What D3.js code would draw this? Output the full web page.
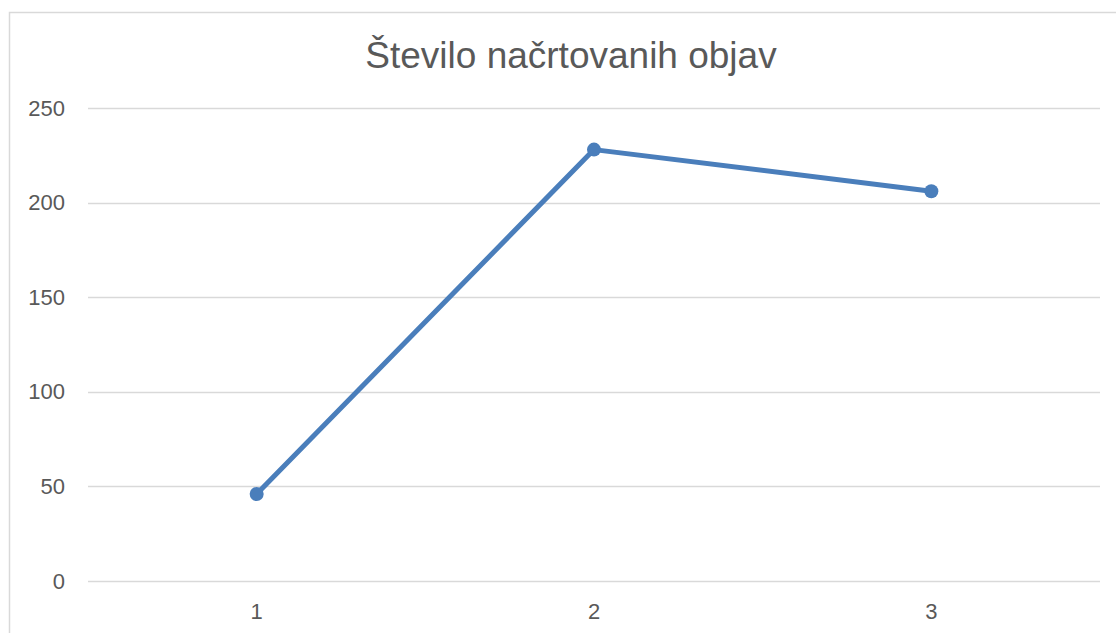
<!DOCTYPE html>
<html>
<head>
<meta charset="utf-8">
<script src="https://cdn.jsdelivr.net/npm/d3@7"></script>
<style>
  body { margin: 0; background: #fff; }
  text { font-family: "Liberation Sans", Arial, sans-serif; fill: #595959; }
</style>
</head>
<body>
<div class="container"></div>
<script>
var categories = ["1", "2", "3"];
var values = [46, 228, 206];
var yTicks = [0, 50, 100, 150, 200, 250];
var title = "Število načrtovanih objav";

var svgWidth = 1116;
var svgHeight = 633;

var chartMargin = { top: 108, bottom: 52, left: 88, right: 16 };
var chartWidth = svgWidth - chartMargin.left - chartMargin.right;
var chartHeight = svgHeight - chartMargin.top - chartMargin.bottom;

var svg = d3.select(".container")
    .append("svg")
    .attr("width", svgWidth)
    .attr("height", svgHeight);

// outer chart border
svg.append("rect")
    .attr("x", 9.5)
    .attr("y", 12.5)
    .attr("width", 1120)
    .attr("height", 640)
    .attr("fill", "none")
    .attr("stroke", "#d9d9d9")
    .attr("stroke-width", 1.5);

svg.append("text")
    .attr("x", 571)
    .attr("y", 68)
    .attr("text-anchor", "middle")
    .style("font-size", "37px")
    .text(title);

var chartGroup = svg.append("g")
    .attr("transform", `translate(${chartMargin.left}, ${chartMargin.top})`);

var xBandScale = d3.scaleBand()
    .domain(categories)
    .range([0, chartWidth]);

var yLinearScale = d3.scaleLinear()
    .domain([0, 250])
    .range([chartHeight, 0]);

// gridlines
chartGroup.selectAll(".grid")
    .data(yTicks)
    .enter()
    .append("line")
    .attr("x1", 0)
    .attr("x2", chartWidth)
    .attr("y1", d => Math.round(yLinearScale(d)) + 0.5)
    .attr("y2", d => Math.round(yLinearScale(d)) + 0.5)
    .attr("stroke", "#d9d9d9")
    .attr("stroke-width", 1.5);

var leftAxis = d3.axisLeft(yLinearScale).tickValues(yTicks).tickSize(0).tickPadding(23);
var bottomAxis = d3.axisBottom(xBandScale).tickSize(0).tickPadding(22);

var gy = chartGroup.append("g").call(leftAxis);
gy.attr("font-size", null).attr("font-family", null);
gy.select(".domain").remove();
gy.selectAll("text").style("font-size", "22px").attr("fill", "#595959");

var gx = chartGroup.append("g")
    .attr("transform", `translate(0, ${chartHeight})`)
    .call(bottomAxis);
gx.attr("font-size", null).attr("font-family", null);
gx.select(".domain").remove();
gx.selectAll("text").style("font-size", "22px").attr("fill", "#595959");

var line = d3.line()
    .x((d, i) => xBandScale(categories[i]) + xBandScale.bandwidth() / 2)
    .y(d => yLinearScale(d));

chartGroup.append("path")
    .datum(values)
    .attr("d", line)
    .attr("fill", "none")
    .attr("stroke", "#4a7ebb")
    .attr("stroke-width", 5)
    .attr("stroke-linejoin", "round");

chartGroup.selectAll(".dot")
    .data(values)
    .enter()
    .append("circle")
    .attr("cx", (d, i) => xBandScale(categories[i]) + xBandScale.bandwidth() / 2)
    .attr("cy", d => yLinearScale(d))
    .attr("r", 7)
    .attr("fill", "#4a7ebb");
</script>
</body>
</html>
